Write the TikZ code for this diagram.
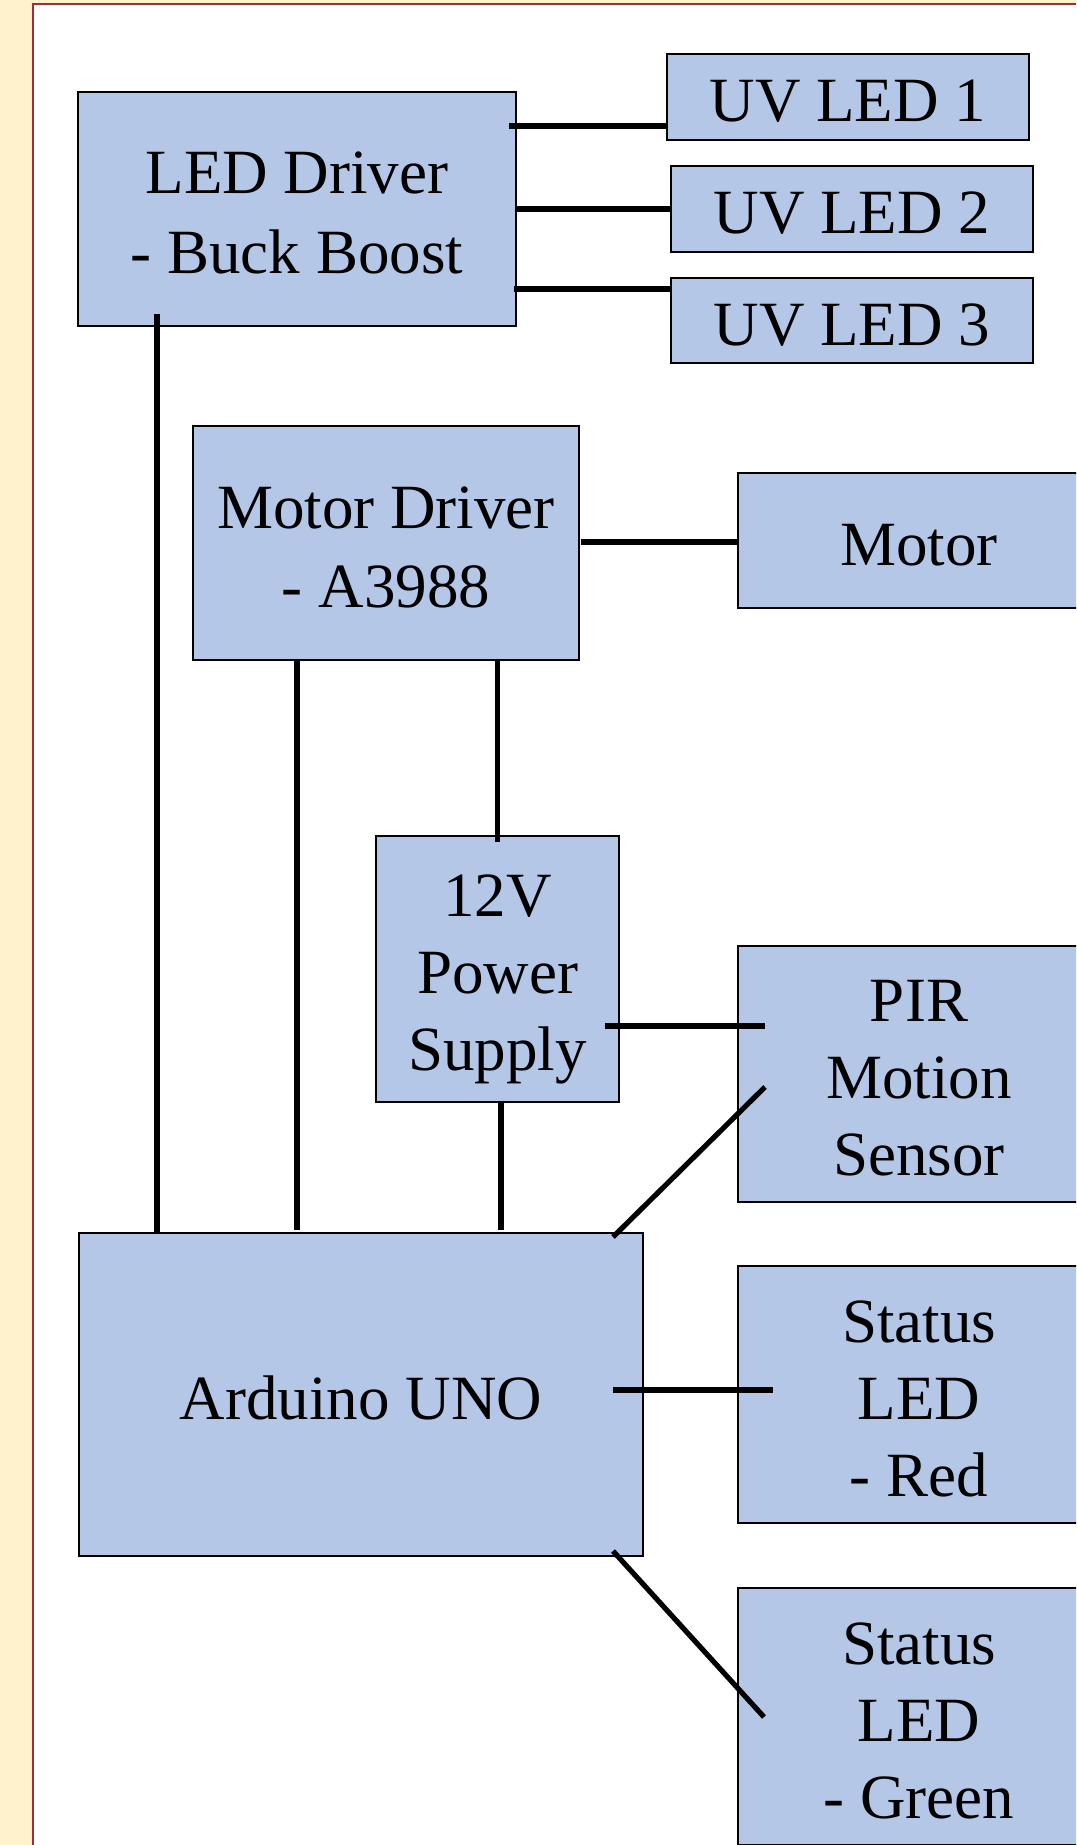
\documentclass[tikz,border=0pt]{standalone}
\usepackage{fontspec}
\setmainfont{Liberation Serif}
\usetikzlibrary{calc}
\definecolor{boxblue}{HTML}{B4C7E7}
\definecolor{pagebeige}{HTML}{FFF2CC}
\definecolor{framered}{HTML}{A02B3C}
\newcommand{\boxstrut}{\rule[-7pt]{0pt}{38.8pt}}
\tikzstyle{block}=[draw, fill=boxblue, line width=1pt, align=center, inner sep=0pt, outer sep=0pt,
	font=\fontsize{31.5}{38.5}\selectfont]
\tikzstyle{wire}=[line width=2.6pt]

\begin{document}
\begin{tikzpicture}[x=0.5pt,y=-0.5pt]
				\useasboundingbox (0,0) rectangle (1076,1845);
				\clip (0,0) rectangle (1076,1845);
				\fill[pagebeige] (0,0) rectangle (1076,1845);
				\draw[framered, fill=white, line width=1.2pt] (33,4) rectangle (1130,1900);

				\node[block, minimum width=219pt, minimum height=117pt] (leddrv) at (297,209) {\boxstrut LED Driver\\- Buck Boost\boxstrut};
				\node[block, minimum width=181pt, minimum height=43pt] (uv1) at (848,97) {\boxstrut UV LED 1};
				\node[block, minimum width=181pt, minimum height=43pt] (uv2) at (852,209) {\boxstrut UV LED 2};
				\node[block, minimum width=181pt, minimum height=42.5pt] (uv3) at (852,320.5) {\boxstrut UV LED 3};

				\node[block, minimum width=193pt, minimum height=117pt] (motdrv) at (386,543) {\boxstrut Motor Driver\\- A3988\boxstrut};
				\node[block, minimum width=181pt, minimum height=67.5pt] (motor) at (919,540.5) {\boxstrut Motor};

				\node[block, minimum width=121.5pt, minimum height=133pt] (psu) at (497.5,969) {\boxstrut 12V\\Power\\Supply\boxstrut};
				\node[block, minimum width=181pt, minimum height=128pt] (pir) at (919,1074) {\boxstrut PIR\\Motion\\Sensor\boxstrut};

				\node[block, minimum width=282pt, minimum height=161.5pt] (ard) at (361,1394.5) {\boxstrut Arduino UNO};
				\node[block, minimum width=181pt, minimum height=128.5pt] (red) at (919,1394.5) {\boxstrut Status\\LED\\- Red\boxstrut};
				\node[block, minimum width=181pt, minimum height=128.5pt] (green) at (919,1716.5) {\boxstrut Status\\LED\\- Green\boxstrut};

				\draw[wire] ($(leddrv.north east)+(-7,34)$) -- ($(uv1.south west)+(0,-14)$);
				\draw[wire] (leddrv.east) -- (uv2.west);
				\draw[wire] ($(leddrv.south east)+(-2,-37)$) -- ($(uv3.west)+(0,-31.5)$);
				\draw[wire] ($(motdrv.east)+(2,-1)$) -- ($(motor.west)+(0,1.5)$);

				\draw[wire] ($(leddrv.south west)+(79,-12)$) -- ($(ard.north west)+(78,0)$);
				\draw[wire] ($(motdrv.south west)+(104,0)$) -- ($(ard.north west)+(218,-3)$);
				\draw[wire] (psu.north |- motdrv.south) -- ($(psu.north)+(0,6)$);
				\draw[wire] ($(psu.south)+(3.5,0)$) -- ($(ard.north west)+(422,-3)$);

				\draw[wire] ($(psu.east)+(-14,57)$) -- ($(pir.west)+(27,-48)$);
				\draw[wire] ($(ard.north east)+(-30,4)$) -- ($(pir.west)+(27,13)$);
				\draw[wire] ($(ard.east)+(-30,-4.5)$) -- ($(red.west)+(35,-4.5)$);
				\draw[wire] ($(ard.south east)+(-30,-5)$) -- ($(green.west)+(26,0.5)$);
			\end{tikzpicture}
\end{document}
